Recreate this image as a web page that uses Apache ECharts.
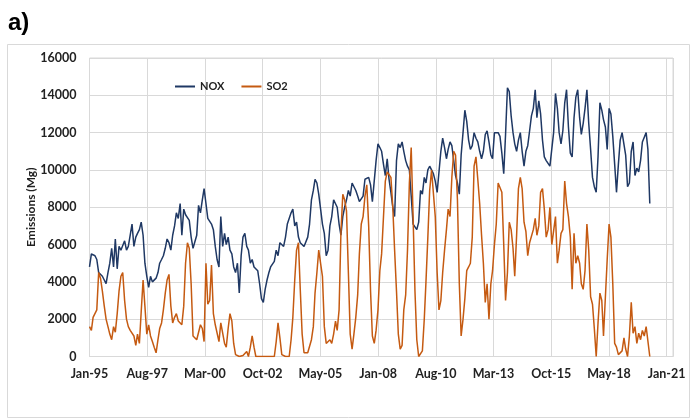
<!DOCTYPE html>
<html>
<head>
<meta charset="utf-8">
<style>
html,body{margin:0;padding:0;background:#fff;}
#main{width:694px;height:419px;}
</style>
<script src="https://cdn.jsdelivr.net/npm/echarts/dist/echarts.min.js"></script>
</head>
<body>
<div id="main"></div>
<script>
// monthly series, first value = Jan 1995
var startYear = 1995;
var nox = [
4800,5500,5400,5400,5200,4500,4400,4300,4100,3900,
4500,5000,5800,4800,6300,4700,5900,5700,5800,6200,
5700,5900,6500,7100,5900,6400,6600,6800,7200,6500,
5000,4300,3700,4300,4000,3900,4200,4500,5000,5200,
5400,5800,6300,6100,5700,6500,7000,7700,7400,8200,
6500,7900,7600,7700,7300,6400,5800,5700,6500,8100,
7700,8400,9000,8200,7400,7300,7100,6800,5900,5200,
4800,7500,5900,6600,6000,6400,5700,5500,4800,4500,
5000,3400,5400,6400,6600,5900,5700,5000,5200,4800,
4700,4600,3900,3100,2900,3600,4100,4500,4800,4700,
5100,5700,5400,6100,6200,5900,6400,7100,7100,7700,
7900,7000,7200,6400,6100,6200,5900,5900,6400,7100,
8400,8900,9500,9300,8700,7900,7100,6600,5400,5700,
7000,7500,8400,8500,8000,7100,6500,7500,8000,8400,
8900,8600,9300,9300,8900,8600,8300,8400,8600,9500,
9600,9600,9200,8300,8200,10500,11400,11200,11000,10300,
9700,10600,9500,8800,8000,7500,10500,11400,11200,11500,
11000,10500,10200,10000,8600,7100,7000,6800,7200,8900,
8700,9600,9300,10000,10200,10300,9800,9400,8800,8900,
11000,11700,11200,10600,11100,11500,11300,10500,9700,9300,
8700,10800,12000,13200,12600,11600,11100,11300,12000,11700,
11500,11000,10600,11000,11900,12100,11500,10800,10600,12000,
12100,12000,11800,10900,9800,11900,14400,14200,12900,12000,
11400,11000,11600,12000,11000,10200,11000,11300,12100,12900,
13300,14300,12800,13700,13000,11600,10700,10500,10400,10200,
10100,12000,14100,13300,12000,11400,12100,13600,14300,12300,
10900,10700,12800,13900,14300,12800,11900,12500,13300,14300,
12500,11100,9600,9100,8800,10700,13600,13200,12700,12300,
11100,13300,13000,11800,10300,8800,10300,11600,12000,12100,
10800,9100,9300,11000,11500,9700,10100,9900,10500,11500,
11400,12000,11100,8200
];
var so2 = [
1600,1400,2100,2000,2500,4500,4200,3500,2700,2000,
1600,1200,900,1600,1300,2300,3500,4300,4500,3000,
2000,1600,1400,1300,1100,600,1200,700,2400,4100,
2700,1200,1700,1100,800,500,200,900,1500,1800,
2500,3400,4100,4400,2700,1800,2100,2300,1900,1900,
1700,2700,5000,6100,5800,3900,1100,1000,900,900,
1700,1500,800,5000,2800,3000,4900,2300,1700,1600,
800,1800,1900,700,500,1500,2300,1900,700,100,
0,0,0,50,0,270,0,500,1100,500,
0,0,0,0,0,0,0,0,0,0,
0,800,1800,1000,100,0,0,0,0,900,
2100,4100,5700,6100,3600,1200,200,100,200,100,
900,1600,3400,4500,5700,5700,4300,1600,700,600,
900,700,1200,1900,1400,2500,6600,8700,8400,7800,
4500,1200,400,1200,2100,3300,5500,7100,7500,8600,
9200,7000,3500,1100,700,1400,2500,4600,5500,7500,
9400,9900,9800,9600,8000,5700,3500,1200,400,600,
2500,3300,5700,9300,11200,7500,3500,900,0,0,
300,2000,4000,6400,8900,10000,10100,7500,4500,2500,
3000,4500,5700,6800,7900,7500,9600,11000,10800,8400,
3900,1100,2000,3100,4600,4800,5000,6400,10200,10700,
9500,8200,6500,5000,2900,3900,2000,3900,4600,6000,
7100,9300,9300,8800,6000,3000,4500,7200,6800,5800,
4300,6500,9000,9600,9000,7200,6700,5400,6100,6000,
6800,7400,6500,7000,8800,9000,7900,6400,6800,8000,
6000,6000,7500,5000,5700,6600,6800,9400,8200,7500,
6400,3600,6600,5000,5400,5000,3900,3600,4600,7100,
5700,3200,2800,1500,0,1800,3400,3000,1100,1200,
5200,7100,6400,3900,700,500,100,0,300,1000,
400,0,1100,2900,1250,1600,700,1250,900,1400,
1100,1600,1700,0
];
// x axis: days since 1 Jan 1995, a tick every 950 days
var tickStep = 950;
var axisMaxDays = 9604;
var tickLabels = ['Jan-95','Aug-97','Mar-00','Oct-02','May-05','Jan-08','Aug-10','Mar-13','Oct-15','May-18','Jan-21'];
var yTicks = [0,2000,4000,6000,8000,10000,12000,14000,16000];

function dayOf(i){
	return (Date.UTC(startYear, i, 1) - Date.UTC(startYear, 0, 1)) / 86400000;
}
function pairs(arr){
	return arr.map(function(v, i){ return [dayOf(i), v]; });
}

var font = 'Lato, "Liberation Sans", Arial, sans-serif';
var chart = echarts.init(document.getElementById('main'), null, {renderer: 'canvas'});
chart.setOption({
	animation: false,
	backgroundColor: '#fff',
	graphic: [
		{type: 'rect', shape: {x: 7.5, y: 44.5, width: 682, height: 373}, style: {fill: 'none', stroke: '#d9d9d9', lineWidth: 1}, silent: true},
		{type: 'text', left: 8, top: 11, style: {text: 'a)', font: 'bold 24px "Liberation Sans", Arial, sans-serif', fill: '#000'}}
	],
	color: ['#1f3864', '#c55a11'],
	legend: {
		left: 175, top: 81, padding: 0,
		icon: 'rect', itemWidth: 20, itemHeight: 2, itemGap: 17,
		textStyle: {fontFamily: font, fontWeight: 'bold', fontSize: 11, color: '#222'},
		data: ['NOX', 'SO2']
	},
	grid: {left: 89.5, right: 21, top: 58, bottom: 62.5, show: true, borderColor: '#d9d9d9', borderWidth: 1},
	xAxis: {
		type: 'value', min: 0, max: axisMaxDays, interval: tickStep,
		axisLine: {show: true, lineStyle: {color: '#d9d9d9'}},
		axisTick: {show: false},
		splitLine: {show: true, lineStyle: {color: '#d9d9d9'}},
		axisLabel: {
			margin: 11, color: '#222', fontFamily: font, fontWeight: 'bold', fontSize: 12.5,
			showMaxLabel: false,
			formatter: function(v){
				return v % tickStep === 0 ? (tickLabels[v / tickStep] || '') : '';
			}
		}
	},
	yAxis: {
		type: 'value', min: yTicks[0], max: yTicks[yTicks.length - 1], interval: 2000,
		name: 'Emissions (Mg)', nameLocation: 'middle', nameGap: 52, nameMoveOverlap: false,
		nameTextStyle: {fontFamily: font, fontWeight: 'bold', fontSize: 12, color: '#222'},
		axisLine: {show: false},
		axisTick: {show: false},
		splitLine: {lineStyle: {color: '#d9d9d9'}},
		axisLabel: {
			margin: 13, color: '#222', fontFamily: font, fontWeight: 'bold', fontSize: 12.5,
			formatter: function(v){ return String(v); }
		}
	},
	series: [
		{name: 'NOX', type: 'line', data: pairs(nox), symbol: 'none', showSymbol: false, lineStyle: {width: 1.5}},
		{name: 'SO2', type: 'line', data: pairs(so2), symbol: 'none', showSymbol: false, lineStyle: {width: 1.5}}
	]
});
</script>
</body>
</html>
